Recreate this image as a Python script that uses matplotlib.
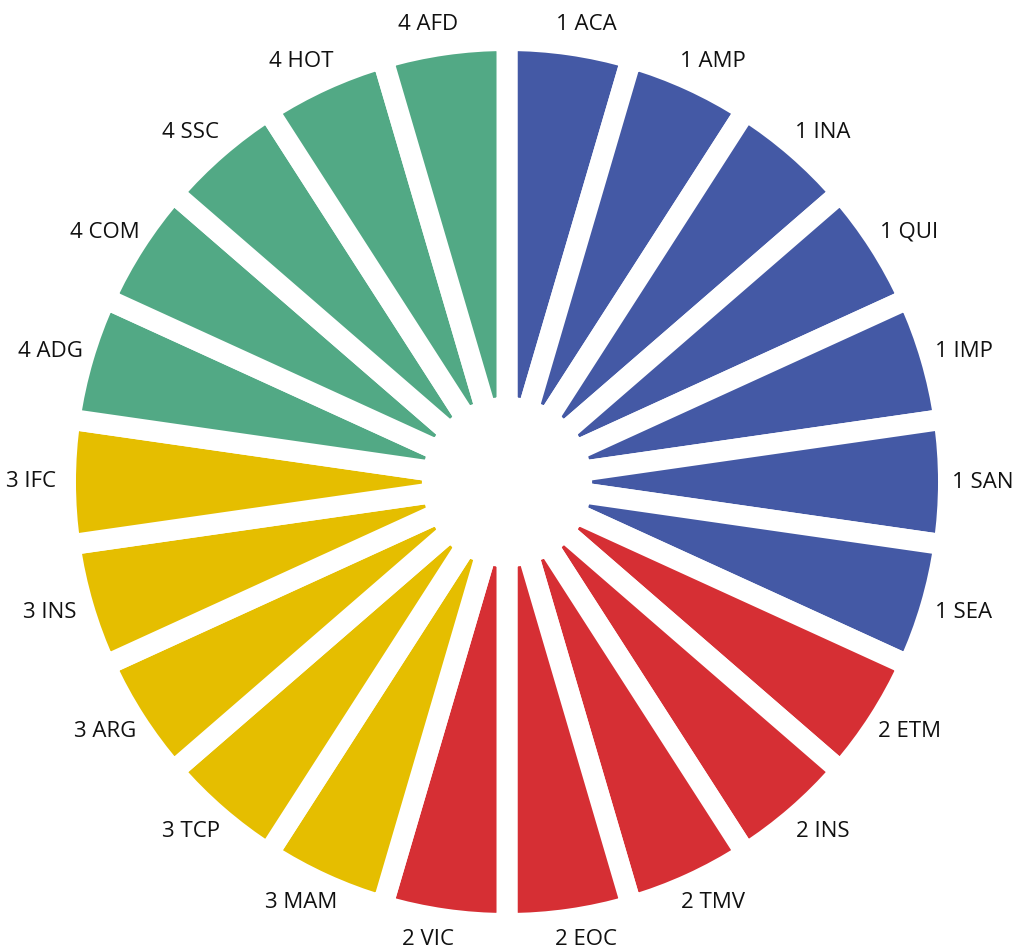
#Radial bar chart (pie with white gaps)

import numpy as np
import matplotlib.pyplot as plt

#_________INPUT data_______
labels = ["1 ACA", "1 AMP", "1 INA", "1 QUI", "1 IMP", "1 SAN", "1 SEA",
          "2 ETM", "2 INS", "2 TMV", "2 EOC", "2 VIC",
          "3 MAM", "3 TCP", "3 ARG", "3 INS", "3 IFC",
          "4 ADG", "4 COM", "4 SSC", "4 HOT", "4 AFD"]
groups = [1]*7 + [2]*5 + [3]*5 + [4]*5
values = [1]*22
group_colors = {1: "#4459A5", 2: "#D62F34", 3: "#E5BE00", 4: "#52A985"}

#_________Figure Style_______________________
plt.rcParams["font.family"] = ["Open Sans", "DejaVu Sans"]
plt.rcParams["font.size"] = 16

W, H = 1015, 950
cx, cy = 507, 482          # pie centre in pixels (from top-left)
scale = 441.5              # pixels per data unit

fig = plt.figure(figsize=(W/100, H/100), dpi=100)
ax = fig.add_axes([0, 0, 1, 1])

wedges, _ = ax.pie(values, colors=[group_colors[g] for g in groups],
                   startangle=90, counterclock=False, radius=1,
                   wedgeprops=dict(width=0.831, edgecolor="white", linewidth=15.1))

#labels
for w, lab in zip(wedges, labels):
    ang = np.deg2rad((w.theta1 + w.theta2) / 2)
    c, s = np.cos(ang), np.sin(ang)
    ax.text(1.0464*c + 0.031*np.sign(c), 1.0464*s, lab,
            ha="center", va="center", color="#111111")

ax.set_xlim(-cx/scale, (W - cx)/scale)
ax.set_ylim(-(H - cy)/scale, cy/scale)
ax.set_aspect("auto")
ax.axis("off")
fig.savefig("out.png", dpi=100)
